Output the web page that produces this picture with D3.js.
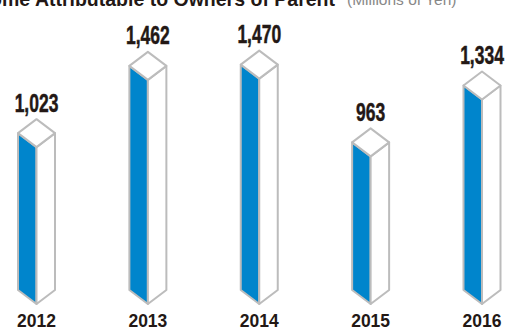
<!DOCTYPE html>
<html>
<head>
<meta charset="utf-8">
<script src="https://cdn.jsdelivr.net/npm/d3@7"></script>
<style>
  html, body { margin: 0; padding: 0; background: #fff; overflow: hidden; }
  svg { display: block; }
</style>
</head>
<body>
<svg id="chart" width="507" height="329"></svg>
<script>
const years = ["2012", "2013", "2014", "2015", "2016"];
const values = [1023, 1462, 1470, 963, 1334];
const valueLabels = ["1,023", "1,462", "1,470", "963", "1,334"];
const titleMain = "Net Income Attributable to Owners of Parent";
const titleUnit = "(Millions of Yen)";

const svg = d3.select("#chart");
const x = d3.scalePoint().domain(years).range([36.5, 482]);
const y = d3.scaleLinear().domain([0, 1983]).range([304, 0]);

const hw = 18.5;   // half width of the prism
const dy = 14;     // isometric offset

const data = years.map((yr, i) => ({ year: yr, value: values[i], label: valueLabels[i] }));

const g = svg.append("g");
const bars = g.selectAll("g.bar").data(data).join("g").attr("class", "bar");

const stroke = "#bcbcbc";
const sw = 2;

bars.append("path")
  .attr("d", d => {
    const cx = x(d.year), t = y(d.value), b = y(0);
    return `M${cx - hw},${t - dy}L${cx},${t}L${cx},${b}L${cx - hw},${b - dy}Z`;
  })
  .attr("fill", "#0085cc").attr("stroke", stroke).attr("stroke-width", sw).attr("stroke-linejoin", "round");

bars.append("path")
  .attr("d", d => {
    const cx = x(d.year), t = y(d.value), b = y(0);
    return `M${cx},${t}L${cx + hw},${t - dy}L${cx + hw},${b - dy}L${cx},${b}Z`;
  })
  .attr("fill", "#fff").attr("stroke", stroke).attr("stroke-width", sw).attr("stroke-linejoin", "round");

bars.append("path")
  .attr("d", d => {
    const cx = x(d.year), t = y(d.value);
    return `M${cx - hw},${t - dy}L${cx},${t - 2 * dy}L${cx + hw},${t - dy}L${cx},${t}Z`;
  })
  .attr("fill", "#fff").attr("stroke", stroke).attr("stroke-width", sw).attr("stroke-linejoin", "round");

bars.append("text")
  .attr("transform", d => `translate(${x(d.year)},${y(d.value) - 2 * dy - 7.5}) scale(0.66,1)`)
  .attr("text-anchor", "middle")
  .attr("font-family", "Liberation Sans, Arial, sans-serif")
  .attr("font-weight", "bold")
  .attr("font-size", 26.5)
  .attr("fill", "#231815")
  .attr("stroke", "#231815")
  .attr("stroke-width", 0.5)
  .text(d => d.label);

bars.append("text")
  .attr("x", d => x(d.year))
  .attr("y", 326.5)
  .attr("text-anchor", "middle")
  .attr("font-family", "Liberation Sans, Arial, sans-serif")
  .attr("font-weight", "bold")
  .attr("font-size", 17.5)
  .attr("fill", "#231815")
  .text(d => d.year);

svg.append("text")
  .attr("x", 335).attr("y", 6)
  .attr("text-anchor", "end")
  .attr("font-family", "Liberation Sans, Arial, sans-serif")
  .attr("font-weight", "bold")
  .attr("font-size", 19.5)
  .attr("fill", "#231815")
  .text(titleMain);

svg.append("text")
  .attr("x", 347).attr("y", 5)
  .attr("font-family", "Liberation Sans, Arial, sans-serif")
  .attr("font-size", 15.5)
  .attr("fill", "#888")
  .text(titleUnit);
</script>
</body>
</html>
